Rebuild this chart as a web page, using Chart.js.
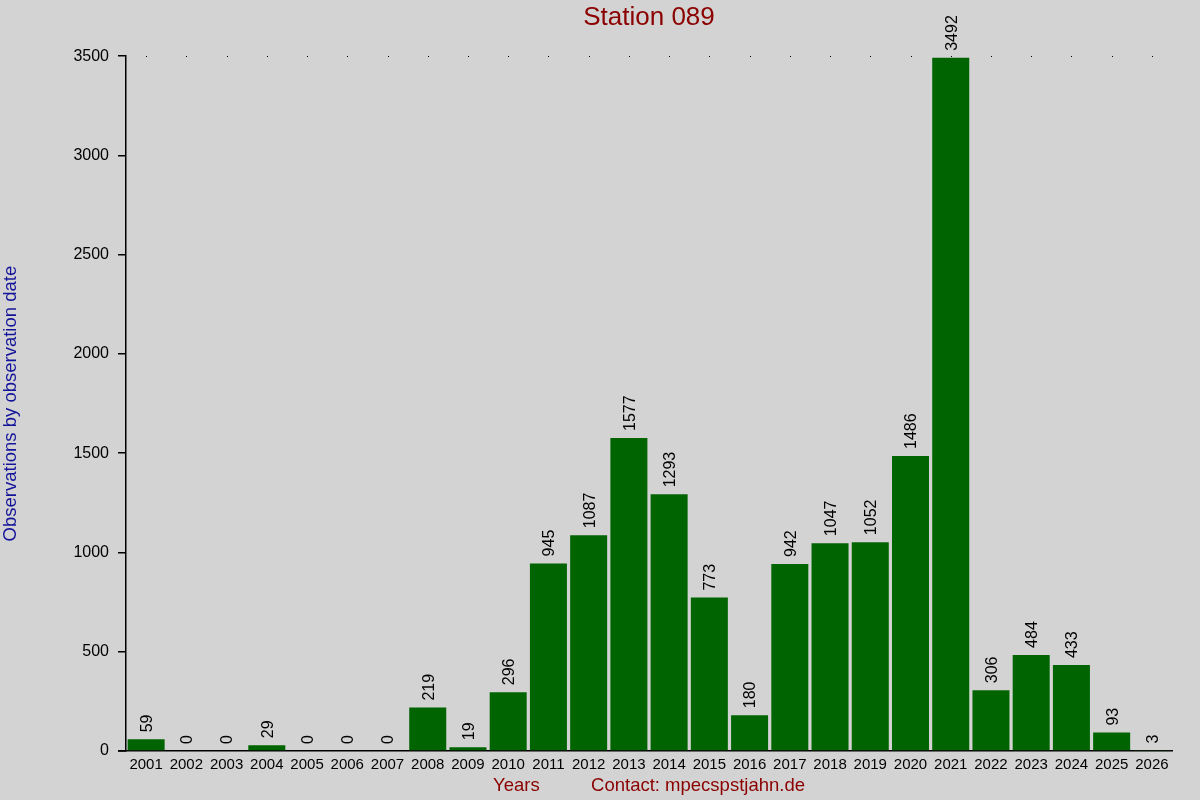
<!DOCTYPE html>
<html>
<head>
<meta charset="utf-8">
<script src="https://cdn.jsdelivr.net/npm/chart.js@4.4.1/dist/chart.umd.min.js"></script>
<style>
  html, body { margin: 0; padding: 0; background: #d3d3d3; }
  #wrap { width: 1200px; height: 800px; }
</style>
</head>
<body>
<div id="wrap"><canvas id="c" width="1200" height="800"></canvas></div>
<script>
const years = ['2001','2002','2003','2004','2005','2006','2007','2008','2009','2010','2011','2012','2013','2014','2015','2016','2017','2018','2019','2020','2021','2022','2023','2024','2025','2026'];
const observations = [59,0,0,29,0,0,0,219,19,296,945,1087,1577,1293,773,180,942,1047,1052,1486,3492,306,484,433,93,3];
const titleText = 'Station 089';
const yTitle = 'Observations by observation date';
const xTitle = 'Years          Contact: mpecspstjahn.de';

const FONT = "'Liberation Sans', Arial, sans-serif";

const bgPlugin = {
  id: 'bg',
  beforeDraw(chart) {
    const ctx = chart.ctx;
    ctx.save();
    ctx.fillStyle = '#d3d3d3';
    ctx.fillRect(0, 0, chart.width, chart.height);
    ctx.restore();
  }
};

const extrasPlugin = {
  id: 'extras',
  afterDraw(chart) {
    const ctx = chart.ctx;
    const area = chart.chartArea;
    const xs = chart.scales.x;
    const meta = chart.getDatasetMeta(0);
    ctx.save();
    ctx.fillStyle = '#000';
    for (let i = 0; i < years.length; i++) {
      const x = Math.round(xs.getPixelForValue(i));
      ctx.fillRect(x, Math.round(area.top), 1, 1);
    }
    ctx.strokeStyle = '#000';
    ctx.lineWidth = 1.5;
    ctx.beginPath();
    ctx.moveTo(area.left - 8, area.bottom);
    ctx.lineTo(area.left, area.bottom);
    ctx.stroke();
    ctx.font = '16px ' + FONT;
    ctx.fillStyle = '#000';
    ctx.textAlign = 'left';
    ctx.textBaseline = 'middle';
    meta.data.forEach((bar, i) => {
      ctx.save();
      ctx.translate(bar.x + 1.5, bar.y - 7);
      ctx.rotate(-Math.PI / 2);
      ctx.fillText(String(observations[i]), 0, 0);
      ctx.restore();
    });
    ctx.restore();
  }
};

new Chart(document.getElementById('c'), {
  type: 'bar',
  data: {
    labels: years,
    datasets: [{
      data: observations,
      backgroundColor: '#006400',
      borderWidth: 0,
      barPercentage: 0.92,
      categoryPercentage: 1.0
    }]
  },
  options: {
    responsive: false,
    devicePixelRatio: 1,
    animation: false,
    layout: { padding: { top: 0, right: 28, left: 0, bottom: 0 } },
    plugins: {
      legend: { display: false },
      tooltip: { enabled: false },
      title: {
        display: true,
        fullSize: false,
        text: titleText,
        color: '#8b0000',
        font: { family: FONT, size: 26, weight: 'normal' },
        padding: { top: 2, bottom: 23 }
      }
    },
    scales: {
      x: {
        offset: true,
        grid: { display: true, drawOnChartArea: false, drawTicks: false },
        border: { display: true, color: '#000', width: 1.5 },
        ticks: { color: '#000', font: { family: FONT, size: 15 }, padding: 5, maxRotation: 0, autoSkip: false },
        title: {
          display: true,
          text: xTitle,
          color: '#8b0000',
          font: { family: FONT, size: 18.5 },
          padding: { top: 0, bottom: 3 }
        },
        afterFit(scale) { scale.height = 49; }
      },
      y: {
        min: 0,
        max: 3500,
        grid: { display: true, drawOnChartArea: false, drawTicks: true, tickLength: 8, color: '#000', lineWidth: 1.5 },
        border: { display: true, color: '#000', width: 1.5 },
        ticks: { stepSize: 500, color: '#000', font: { family: FONT, size: 16 }, padding: 9,
                 callback: (v) => String(v) },
        title: {
          display: true,
          text: yTitle,
          color: '#14149a',
          font: { family: FONT, size: 18.5 },
          padding: { top: 0, bottom: 0 }
        },
        afterFit(scale) { scale.width = 126; }
      }
    }
  },
  plugins: [bgPlugin, extrasPlugin]
});
</script>
</body>
</html>
